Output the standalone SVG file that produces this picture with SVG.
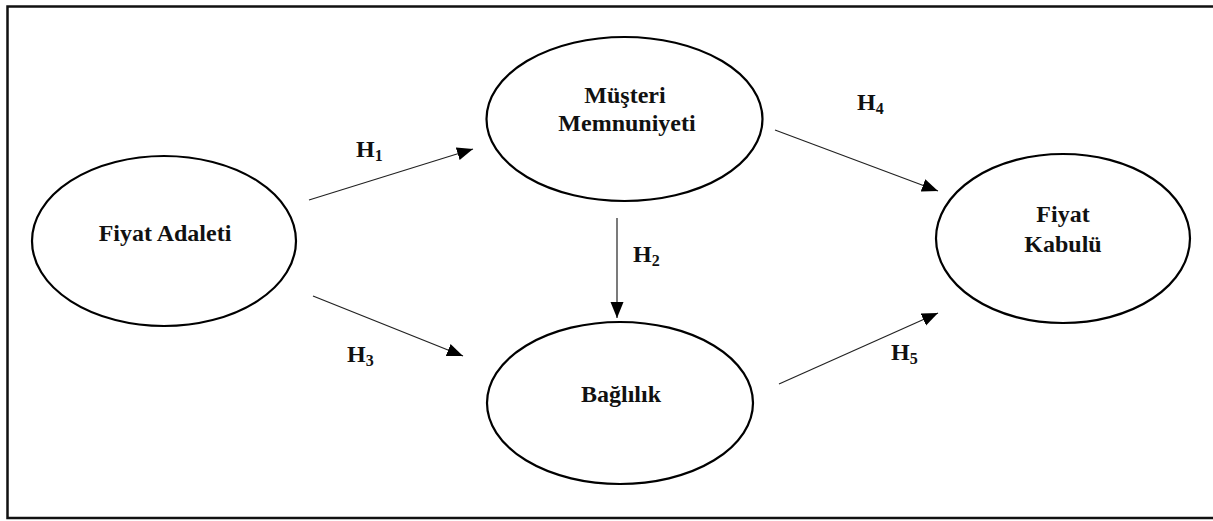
<svg xmlns="http://www.w3.org/2000/svg" width="1213" height="521" viewBox="0 0 1213 521">
<style>
.node{fill:#fff;stroke:#000;stroke-width:2.2}
.lbl{font-family:"Liberation Serif","Times New Roman",serif;font-weight:bold;font-size:24px;fill:#111;text-anchor:middle}
.h{font-family:"Liberation Serif","Times New Roman",serif;font-weight:bold;font-size:24px;fill:#111}
.sub{font-size:16px}
.conn{stroke:#222;stroke-width:1.2;fill:none;marker-end:url(#ah)}
</style>
<defs>
<marker id="ah" markerUnits="userSpaceOnUse" markerWidth="18" markerHeight="14" refX="16" refY="6.5" orient="auto">
<path d="M0,0 L16,6.5 L0,13 z" fill="#000"/>
</marker>
</defs>
<rect x="7.5" y="6.5" width="1210" height="511.5" fill="#fff" stroke="#111" stroke-width="2.5"/>
<g id="connectors">
<line class="conn" x1="309" y1="200" x2="473" y2="149"/>
<line class="conn" x1="617" y1="218" x2="617" y2="318"/>
<line class="conn" x1="313" y1="296" x2="463" y2="356"/>
<line class="conn" x1="775" y1="130" x2="938" y2="191"/>
<line class="conn" x1="779" y1="384" x2="938" y2="313"/>
</g>
<g id="node-fiyat-adaleti">
<ellipse class="node" cx="164" cy="241" rx="132" ry="85"/>
<text class="lbl" x="165" y="241">Fiyat Adaleti</text>
</g>
<g id="node-musteri-memnuniyeti">
<ellipse class="node" cx="624.5" cy="119" rx="138" ry="82"/>
<text class="lbl" x="625" y="103">Müşteri</text>
<text class="lbl" x="627" y="131">Memnuniyeti</text>
</g>
<g id="node-baglilik">
<ellipse class="node" cx="620" cy="403" rx="133" ry="81"/>
<text class="lbl" x="621" y="402">Bağlılık</text>
</g>
<g id="node-fiyat-kabulu">
<ellipse class="node" cx="1063" cy="238.5" rx="127" ry="84.5"/>
<text class="lbl" x="1063" y="222">Fiyat</text>
<text class="lbl" x="1063" y="252">Kabulü</text>
</g>
<g id="labels">
<text class="h" x="356" y="157">H<tspan class="sub" dy="4">1</tspan></text>
<text class="h" x="633" y="262">H<tspan class="sub" dy="4">2</tspan></text>
<text class="h" x="347" y="362">H<tspan class="sub" dy="4">3</tspan></text>
<text class="h" x="857" y="110">H<tspan class="sub" dy="4">4</tspan></text>
<text class="h" x="891" y="360">H<tspan class="sub" dy="4">5</tspan></text>
</g>
</svg>
